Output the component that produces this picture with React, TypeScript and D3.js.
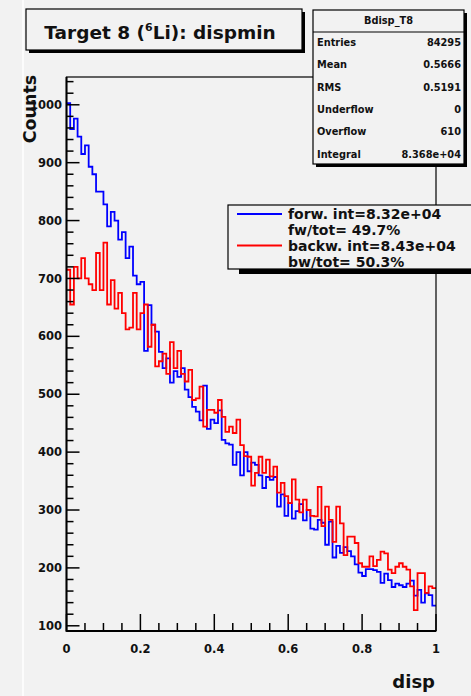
import React from 'react';
import * as d3 from 'd3';

const nBins = 100;
const xMin = 0;
const xMax = 1;

const forwCounts = [
  1003, 958, 976, 945, 915, 930, 893, 880, 850, 850,
  828, 790, 815, 800, 767, 780, 735, 755, 705, 690,
  694, 575, 654, 620, 608, 573, 545, 562, 520, 540,
  530, 545, 508, 495, 478, 470, 455, 515, 440, 456,
  450, 472, 421, 415, 413, 378, 400, 360, 400, 367,
  382, 378, 360, 338, 357, 352, 357, 306, 327, 290,
  312, 285, 298, 310, 282, 300, 268, 266, 283, 278,
  240, 280, 218, 238, 226, 236, 229, 220, 206, 192,
  186, 198, 198, 196, 193, 174, 190, 179, 167, 173,
  170, 167, 173, 178, 152, 162, 140, 156, 153, 135,
];

const backwCounts = [
  715, 655, 720, 700, 735, 700, 690, 680, 744, 680,
  762, 655, 697, 648, 675, 640, 612, 615, 675, 612,
  640, 655, 582, 620, 548, 557, 570, 535, 590, 545,
  575, 535, 522, 542, 490, 493, 513, 444, 473, 473,
  468, 490, 461, 435, 444, 433, 456, 412, 393, 392,
  342, 364, 392, 364, 387, 358, 375, 330, 347, 324,
  312, 353, 318, 296, 318, 300, 290, 289, 340, 272,
  306, 283, 245, 306, 277, 222, 254, 254, 243, 208,
  202, 202, 220, 203, 214, 228, 225, 197, 191, 202,
  208, 202, 197, 168, 127, 191, 191, 157, 168, 165,
];

const xMajorTicks = [0, 0.2, 0.4, 0.6, 0.8, 1];
const xTickLabels = ['0', '0.2', '0.4', '0.6', '0.8', '1'];
const yMajorTicks = [100, 200, 300, 400, 500, 600, 700, 800, 900, 1000];
const yTickLabels = ['100', '200', '300', '400', '500', '600', '700', '800', '900', '1000'];

const titleMain = 'Target 8 (';
const titleSup = '6';
const titleRest = 'Li): dispmin';
const statsName = 'Bdisp_T8';
const statsLabels = ['Entries', 'Mean', 'RMS', 'Underflow', 'Overflow', 'Integral'];
const statsValues = ['84295', '0.5666', '0.5191', '0', '610', '8.368e+04'];
const legendSeries = ['forw.', 'backw.'];
const legendLine1 = ['forw. int=8.32e+04', 'backw. int=8.43e+04'];
const legendLine2 = ['fw/tot= 49.7%', 'bw/tot= 50.3%'];
const seriesColors = ['#0000ff', '#ff0000'];
const xLabel = 'disp';
const yLabel = 'Counts';

const W = 471;
const H = 696;
const BG = '#f2f2f2';
const FONT = '"DejaVu Sans", "Liberation Sans", sans-serif';

export default function App() {
  const left = 66.5;
  const right = 436;
  const top = 77;
  const bottom = 631;
  const x = d3.scaleLinear().domain([xMin, xMax]).range([left, right]);
  const y = d3.scaleLinear().domain([91, 1048]).range([bottom, top]);

  const binW = (xMax - xMin) / nBins;
  const stepLine = d3
    .line<[number, number]>()
    .x((d) => x(d[0]))
    .y((d) => y(d[1]))
    .curve(d3.curveStepAfter);

  const toPts = (arr: number[]): [number, number][] => {
    const pts: [number, number][] = arr.map((v, i) => [xMin + i * binW, v]);
    pts.push([xMax, arr[arr.length - 1]]);
    return pts;
  };

  const yMinor = d3.range(100, 1048, 20).filter((v) => v % 100 !== 0);
  const xMinor = d3.range(0, 1.0001, 0.05).filter((v) => Math.abs(v / 0.2 - Math.round(v / 0.2)) > 1e-6);

  const statsX0 = 313;
  const statsX1 = 464;
  const statsY0 = 10;
  const statsY1 = 164;

  return (
    <svg
      width={W}
      height={H}
      style={{ position: 'absolute', left: 0, top: 0, background: BG }}
      fontFamily={FONT}
      fontWeight="bold"
    >
      <rect x={0} y={0} width={W} height={H} fill={BG} />
      <rect x={22} y={0} width={2} height={H} fill="#fcfcfc" />

      <defs>
        <clipPath id="frameClip">
          <rect x={left} y={top} width={right - left} height={bottom - top} />
        </clipPath>
      </defs>

      {/* histograms */}
      <g clipPath="url(#frameClip)">
        <path d={stepLine(toPts(forwCounts)) || ''} fill="none" stroke={seriesColors[0]} strokeWidth={1.8} />
        <path d={stepLine(toPts(backwCounts)) || ''} fill="none" stroke={seriesColors[1]} strokeWidth={1.8} />
      </g>

      {/* frame */}
      <rect x={left} y={top} width={right - left} height={bottom - top} fill="none" stroke="#000" strokeWidth={1.2} />
      <line x1={left} x2={left} y1={top} y2={bottom + 0.8} stroke="#000" strokeWidth={2} />
      <line x1={left} x2={right} y1={bottom} y2={bottom} stroke="#000" strokeWidth={2} />

      {/* y ticks */}
      {yMajorTicks.map((t, i) => (
        <g key={'ym' + t}>
          <line x1={left} x2={left + 13} y1={y(t)} y2={y(t)} stroke="#000" strokeWidth={1.5} />
          <text x={62} y={y(t)} dy="0.36em" textAnchor="end" fontSize={11.5} fill="#111">
            {yTickLabels[i]}
          </text>
        </g>
      ))}
      {yMinor.map((t) => (
        <line key={'yn' + t} x1={left} x2={left + 7} y1={y(t)} y2={y(t)} stroke="#000" strokeWidth={1.5} />
      ))}

      {/* x ticks */}
      {xMajorTicks.map((t, i) => (
        <g key={'xm' + t}>
          <line x1={x(t)} x2={x(t)} y1={bottom} y2={bottom - 17} stroke="#000" strokeWidth={1.5} />
          <text x={x(t)} y={653} textAnchor="middle" fontSize={11.5} fill="#111">
            {xTickLabels[i]}
          </text>
        </g>
      ))}
      {xMinor.map((t) => (
        <line key={'xn' + t} x1={x(t)} x2={x(t)} y1={bottom} y2={bottom - 8} stroke="#000" strokeWidth={1.5} />
      ))}

      {/* axis titles */}
      <text x={435} y={688} textAnchor="end" fontSize={18} fill="#111">
        {xLabel}
      </text>
      <text transform="translate(36,109) rotate(-90)" textAnchor="middle" fontSize={17.5} fill="#111">
        {yLabel}
      </text>

      {/* title box */}
      <rect x={29} y={12} width={276} height={41} fill="#000" />
      <rect x={26} y={9} width={276} height={41} fill={BG} stroke="#000" strokeWidth={1.2} />
      <text x={160} y={39} textAnchor="middle" fontSize={18.5} fill="#111">
        <tspan>{titleMain}</tspan>
        <tspan dy={-8} fontSize={11}>{titleSup}</tspan>
        <tspan dy={8}>{titleRest}</tspan>
      </text>

      {/* stats box */}
      <rect x={statsX0 + 3} y={statsY0 + 3} width={statsX1 - statsX0} height={statsY1 - statsY0} fill="#000" />
      <rect x={statsX0} y={statsY0} width={statsX1 - statsX0} height={statsY1 - statsY0} fill={BG} stroke="#000" strokeWidth={1.2} />
      <line x1={statsX0} x2={statsX1} y1={32} y2={32} stroke="#000" strokeWidth={1.2} />
      <text x={(statsX0 + statsX1) / 2} y={23.5} textAnchor="middle" fontSize={9.8} fill="#111">
        {statsName}
      </text>
      {statsLabels.map((lab, i) => (
        <g key={lab}>
          <text x={317} y={46 + i * 22.3} fontSize={9.8} fill="#111">
            {lab}
          </text>
          <text x={461} y={46 + i * 22.3} textAnchor="end" fontSize={9.8} fill="#111">
            {statsValues[i]}
          </text>
        </g>
      ))}

      {/* legend */}
      <rect x={239} y={209} width={250} height={65} fill="#000" />
      <rect x={228} y={205} width={260} height={64} fill={BG} stroke="#000" strokeWidth={1.2} />
      {legendSeries.map((s, i) => (
        <g key={s}>
          <line x1={237} x2={282} y1={214 + i * 31.5} y2={214 + i * 31.5} stroke={seriesColors[i]} strokeWidth={1.8} />
          <text x={288} y={218.5 + i * 32.5} fontSize={14} fill="#111">
            {legendLine1[i]}
          </text>
          <text x={288} y={235 + i * 32} fontSize={14} fill="#111">
            {legendLine2[i]}
          </text>
        </g>
      ))}
    </svg>
  );
}
